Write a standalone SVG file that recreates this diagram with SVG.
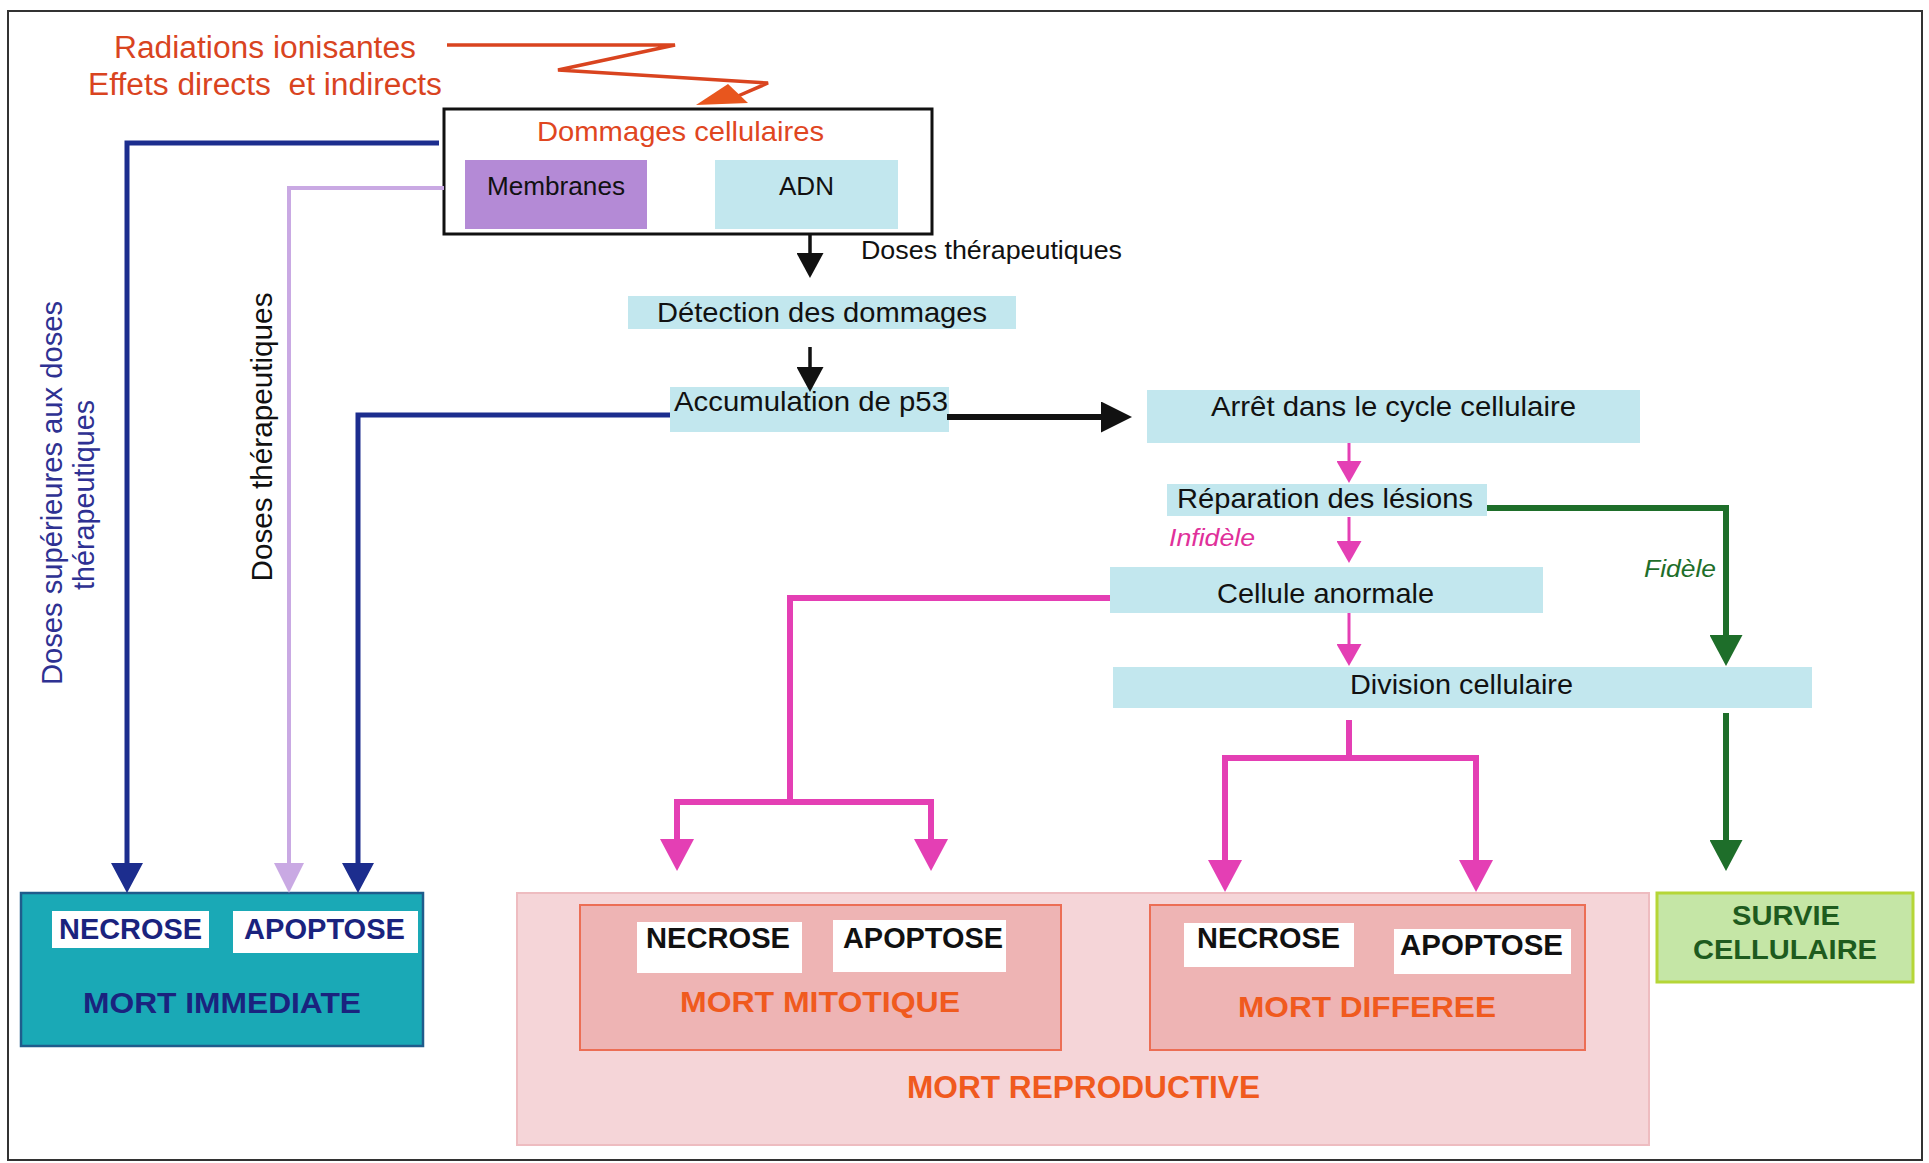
<svg xmlns="http://www.w3.org/2000/svg" width="1929" height="1163" viewBox="0 0 1929 1163">
<style>
text{font-family:"Liberation Sans",Arial,Helvetica,sans-serif}
.cy{fill:#c2e7ee}
.t{font-size:28px;fill:#111}
.b{font-weight:bold}
.wb{fill:#ffffff}
.nv{stroke:#1c2d8e;stroke-width:5;fill:none}
.lv{stroke:#c9a9e3;stroke-width:4;fill:none}
.pk{stroke:#e43fb4;stroke-width:6;fill:none}
.pks{stroke:#e43fb4;stroke-width:3;fill:none}
.gr{stroke:#1e6e2a;stroke-width:6;fill:none}
.bk{stroke:#111;stroke-width:3.5;fill:none}
.bkl{stroke:#111;stroke-width:6;fill:none}
</style>
<defs>
<marker id="aNavy" viewBox="0 0 30 32" refX="1" refY="16" markerWidth="30" markerHeight="32" markerUnits="userSpaceOnUse" orient="auto"><path d="M0,0 L30,16 L0,32 z" fill="#1c2d8e"/></marker>
<marker id="aLav" viewBox="0 0 30 30" refX="1" refY="15" markerWidth="30" markerHeight="30" markerUnits="userSpaceOnUse" orient="auto"><path d="M0,0 L30,15 L0,30 z" fill="#c9a9e3"/></marker>
<marker id="aPinkL" viewBox="0 0 32 34" refX="1" refY="17" markerWidth="32" markerHeight="34" markerUnits="userSpaceOnUse" orient="auto"><path d="M0,0 L32,17 L0,34 z" fill="#e43fb4"/></marker>
<marker id="aPinkS" viewBox="0 0 22 25" refX="1" refY="12.5" markerWidth="22" markerHeight="25" markerUnits="userSpaceOnUse" orient="auto"><path d="M0,0 L22,12.5 L0,25 z" fill="#e43fb4"/></marker>
<marker id="aGreen" viewBox="0 0 31 33" refX="1" refY="16.5" markerWidth="31" markerHeight="33" markerUnits="userSpaceOnUse" orient="auto"><path d="M0,0 L31,16.5 L0,33 z" fill="#1e6e2a"/></marker>
<marker id="aBlkS" viewBox="0 0 25 27" refX="1" refY="13.5" markerWidth="25" markerHeight="27" markerUnits="userSpaceOnUse" orient="auto"><path d="M0,0 L25,13.5 L0,27 z" fill="#111"/></marker>
<marker id="aBlkL" viewBox="0 0 31 31" refX="1" refY="15.5" markerWidth="31" markerHeight="31" markerUnits="userSpaceOnUse" orient="auto"><path d="M0,0 L31,15.5 L0,31 z" fill="#111"/></marker>
</defs>
<rect x="0" y="0" width="1929" height="1163" fill="#ffffff"/>
<rect id="frame" x="8" y="11" width="1914" height="1149" fill="none" stroke="#333" stroke-width="2"/>

<g id="radiations">
<text x="114" y="58" font-size="31" fill="#d9441f" textLength="302" lengthAdjust="spacingAndGlyphs">Radiations ionisantes</text>
<text x="88" y="95" font-size="31" fill="#d9441f" textLength="354" lengthAdjust="spacingAndGlyphs" xml:space="preserve">Effets directs  et indirects</text>
<polyline points="447,45 675,45 558,70 768,83 738,96" fill="none" stroke="#d9441f" stroke-width="3.5" stroke-linejoin="miter"/>
<polygon points="696,105 728,84 748,103" fill="#e8561e"/>
</g>

<g id="dommages">
<rect x="444" y="109" width="488" height="125" fill="#ffffff" stroke="#111" stroke-width="3"/>
<text x="537" y="141" font-size="28" fill="#e0461f" textLength="287" lengthAdjust="spacingAndGlyphs">Dommages cellulaires</text>
<g id="membranes"><rect x="465" y="160" width="182" height="69" fill="#b48ad6"/>
<text x="487" y="195" font-size="25" fill="#111" textLength="138" lengthAdjust="spacingAndGlyphs">Membranes</text></g>
<g id="adn"><rect class="cy" x="715" y="160" width="183" height="69"/>
<text x="779" y="195" font-size="25" fill="#111" textLength="55" lengthAdjust="spacingAndGlyphs">ADN</text></g>
</g>

<g id="detection"><rect class="cy" x="628" y="296" width="388" height="33"/>
<text class="t" x="657" y="322" textLength="330" lengthAdjust="spacingAndGlyphs">Détection des dommages</text></g>

<g id="accumulation"><rect class="cy" x="670" y="387" width="279" height="45"/>
<text class="t" x="674" y="411" textLength="274" lengthAdjust="spacingAndGlyphs">Accumulation de p53</text></g>

<g id="arret"><rect class="cy" x="1147" y="390" width="493" height="53"/>
<text class="t" x="1211" y="416" textLength="365" lengthAdjust="spacingAndGlyphs">Arrêt dans le cycle cellulaire</text></g>

<g id="reparation"><rect class="cy" x="1167" y="484" width="320" height="32"/>
<text class="t" x="1177" y="508" textLength="296" lengthAdjust="spacingAndGlyphs">Réparation des lésions</text></g>

<g id="cellule"><rect class="cy" x="1110" y="567" width="433" height="46"/>
<text class="t" x="1217" y="603" textLength="217" lengthAdjust="spacingAndGlyphs">Cellule anormale</text></g>

<g id="division"><rect class="cy" x="1113" y="667" width="699" height="41"/>
<text class="t" x="1350" y="694" textLength="223" lengthAdjust="spacingAndGlyphs">Division cellulaire</text></g>

<g id="labels">
<text x="861" y="259" font-size="26" fill="#111" textLength="261" lengthAdjust="spacingAndGlyphs">Doses thérapeutiques</text>
<text x="1169" y="546" font-size="24" font-style="italic" fill="#e0309a" textLength="86" lengthAdjust="spacingAndGlyphs">Infidèle</text>
<text x="1644" y="577" font-size="24" font-style="italic" fill="#1e6e2a" textLength="72" lengthAdjust="spacingAndGlyphs">Fidèle</text>
<text transform="translate(62,493) rotate(-90)" text-anchor="middle" font-size="29" fill="#2e3192" textLength="384" lengthAdjust="spacingAndGlyphs">Doses supérieures aux doses</text>
<text transform="translate(94,495) rotate(-90)" text-anchor="middle" font-size="29" fill="#2e3192" textLength="190" lengthAdjust="spacingAndGlyphs">thérapeutiques</text>
<text transform="translate(272,437) rotate(-90)" text-anchor="middle" font-size="29" fill="#111" textLength="289" lengthAdjust="spacingAndGlyphs">Doses thérapeutiques</text>
</g>

<g id="mort-immediate">
<rect x="21" y="893" width="402" height="153" fill="#1aa9b6" stroke="#1f5c8c" stroke-width="2.5"/>
<rect class="wb" x="52" y="911" width="157" height="37"/>
<rect class="wb" x="233" y="911" width="185" height="42"/>
<text class="b" x="59" y="939" font-size="29" fill="#1a237e" textLength="143" lengthAdjust="spacingAndGlyphs">NECROSE</text>
<text class="b" x="244" y="939" font-size="29" fill="#1a237e" textLength="161" lengthAdjust="spacingAndGlyphs">APOPTOSE</text>
<text class="b" x="83" y="1013" font-size="29" fill="#1a237e" textLength="278" lengthAdjust="spacingAndGlyphs">MORT IMMEDIATE</text>
</g>

<g id="mort-reproductive">
<rect x="517" y="893" width="1132" height="252" fill="#f5d5d8" stroke="#eebcc0" stroke-width="2"/>
<text class="b" x="907" y="1098" font-size="31" fill="#f05a1e" textLength="353" lengthAdjust="spacingAndGlyphs">MORT REPRODUCTIVE</text>
<g id="mort-mitotique">
<rect x="580" y="905" width="481" height="145" fill="#eeb4b4" stroke="#ec6e55" stroke-width="2"/>
<rect class="wb" x="637" y="922" width="165" height="51"/>
<rect class="wb" x="833" y="920" width="173" height="52"/>
<text class="b" x="646" y="948" font-size="29" fill="#111" textLength="144" lengthAdjust="spacingAndGlyphs">NECROSE</text>
<text class="b" x="843" y="948" font-size="29" fill="#111" textLength="160" lengthAdjust="spacingAndGlyphs">APOPTOSE</text>
<text class="b" x="680" y="1012" font-size="29" fill="#f05a1e" textLength="280" lengthAdjust="spacingAndGlyphs">MORT MITOTIQUE</text>
</g>
<g id="mort-differee">
<rect x="1150" y="905" width="435" height="145" fill="#eeb4b4" stroke="#ec6e55" stroke-width="2"/>
<rect class="wb" x="1184" y="923" width="170" height="44"/>
<rect class="wb" x="1394" y="929" width="177" height="45"/>
<text class="b" x="1197" y="948" font-size="29" fill="#111" textLength="143" lengthAdjust="spacingAndGlyphs">NECROSE</text>
<text class="b" x="1400" y="955" font-size="29" fill="#111" textLength="163" lengthAdjust="spacingAndGlyphs">APOPTOSE</text>
<text class="b" x="1238" y="1017" font-size="30" fill="#f05a1e" textLength="258" lengthAdjust="spacingAndGlyphs">MORT DIFFEREE</text>
</g>
</g>

<g id="survie">
<rect x="1657" y="893" width="256" height="89" fill="#c5e6a6" stroke="#b5d637" stroke-width="3"/>
<text class="b" x="1786" y="925" text-anchor="middle" font-size="28" fill="#1e5b1e" textLength="108" lengthAdjust="spacingAndGlyphs">SURVIE</text>
<text class="b" x="1785" y="959" text-anchor="middle" font-size="28" fill="#1e5b1e" textLength="184" lengthAdjust="spacingAndGlyphs">CELLULAIRE</text>
</g>

<g id="connectors">
<path class="nv" d="M439,143 H127 V864" marker-end="url(#aNavy)"/>
<path class="lv" d="M444,188 H289 V864" marker-end="url(#aLav)"/>
<path class="nv" d="M670,415 H358 V864" marker-end="url(#aNavy)"/>
<path class="bk" d="M810,234 V254" marker-end="url(#aBlkS)"/>
<path class="bk" d="M810,347 V368" marker-end="url(#aBlkS)"/>
<path class="bkl" d="M947,417 H1102" marker-end="url(#aBlkL)"/>
<path class="pks" d="M1349,443 V462" marker-end="url(#aPinkS)"/>
<path class="pks" d="M1349,517 V542" marker-end="url(#aPinkS)"/>
<path class="pks" d="M1349,613 V645" marker-end="url(#aPinkS)"/>
<path class="gr" d="M1487,508 H1726 V636" marker-end="url(#aGreen)"/>
<path class="gr" d="M1726,713 V841" marker-end="url(#aGreen)"/>
<path class="pk" d="M1110,598 H790 V802"/>
<path class="pk" d="M674,802 H934"/>
<path class="pk" d="M677,799 V840" marker-end="url(#aPinkL)"/>
<path class="pk" d="M931,799 V840" marker-end="url(#aPinkL)"/>
<path class="pk" d="M1349,720 V758"/>
<path class="pk" d="M1222,758 H1479"/>
<path class="pk" d="M1225,755 V861" marker-end="url(#aPinkL)"/>
<path class="pk" d="M1476,755 V861" marker-end="url(#aPinkL)"/>
</g>
</svg>
